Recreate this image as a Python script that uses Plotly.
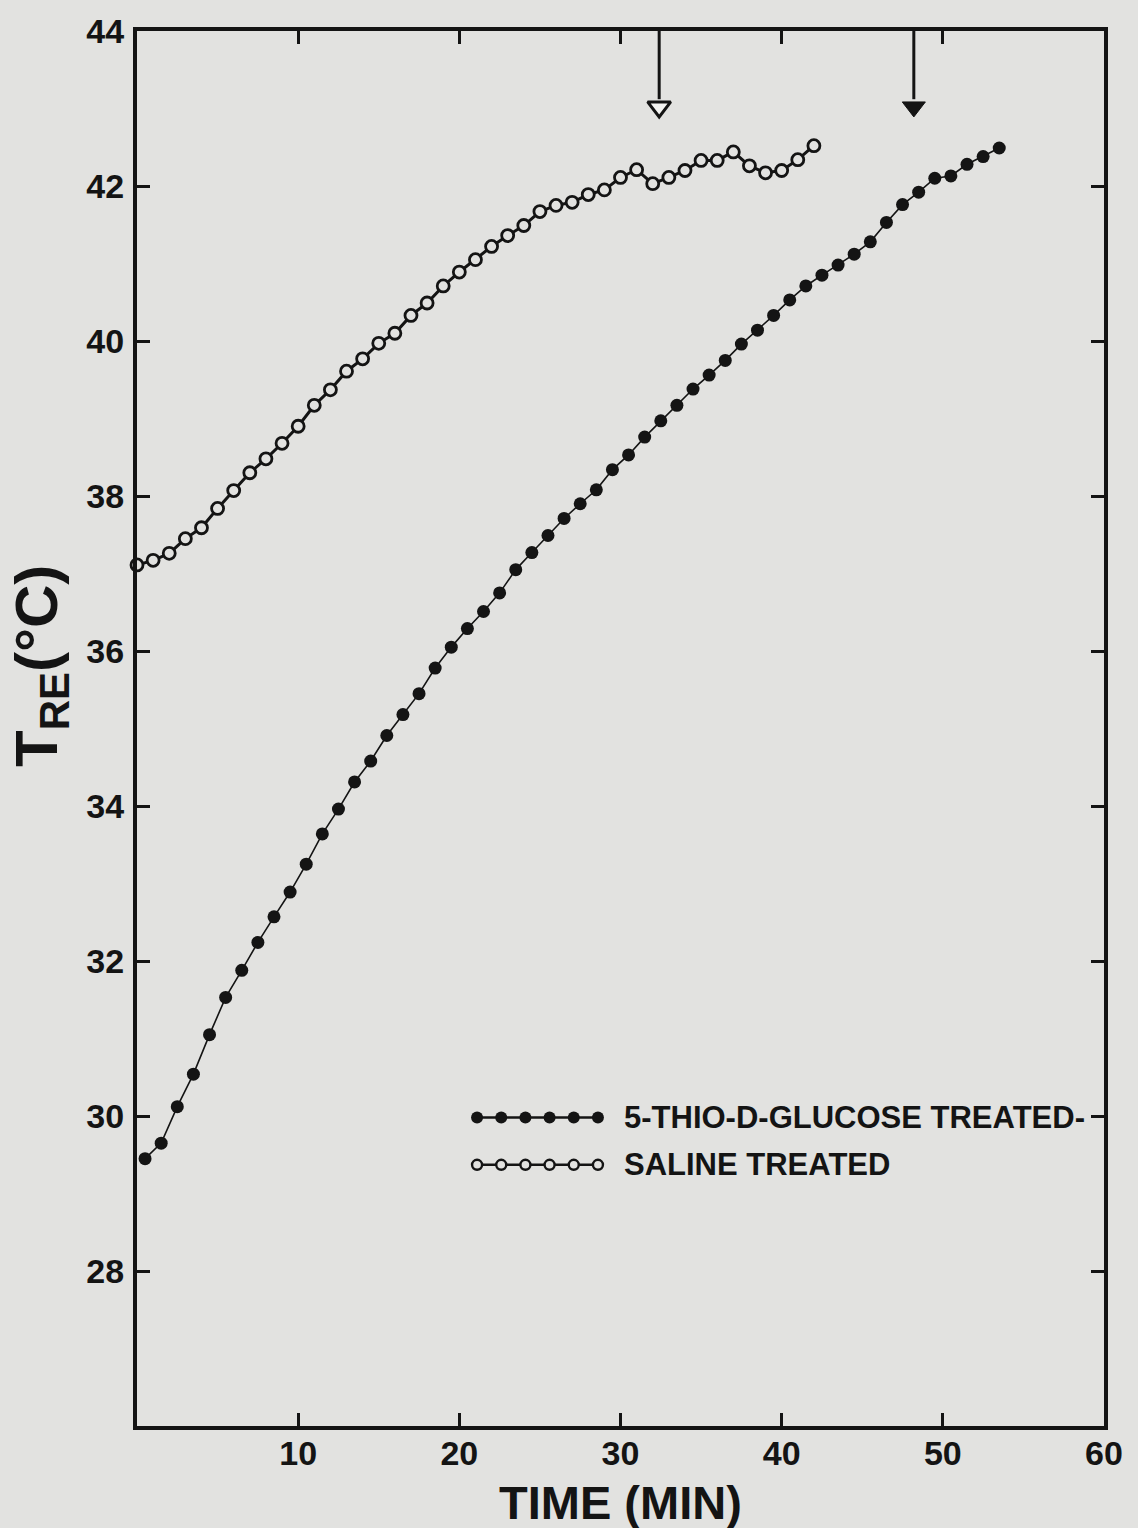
import plotly.graph_objects as go

# ---------------- data ----------------
saline_time = list(range(0, 43))  # minutes
saline_temp = [37.11, 37.17, 37.26, 37.45, 37.59, 37.84, 38.07, 38.30, 38.48, 38.68,
               38.90, 39.17, 39.37, 39.61, 39.77, 39.97, 40.10, 40.33, 40.49, 40.71,
               40.89, 41.05, 41.22, 41.36, 41.49, 41.67, 41.75, 41.79, 41.89, 41.95,
               42.11, 42.21, 42.03, 42.11, 42.20, 42.33, 42.33, 42.44, 42.26, 42.17,
               42.20, 42.34, 42.52]

thio_time = [i + 0.5 for i in range(0, 54)]  # minutes
thio_temp = [29.45, 29.65, 30.12, 30.54, 31.05, 31.53, 31.88, 32.24, 32.57, 32.89,
             33.25, 33.64, 33.96, 34.31, 34.58, 34.91, 35.18, 35.45, 35.78, 36.05,
             36.29, 36.51, 36.75, 37.05, 37.27, 37.49, 37.71, 37.90, 38.08, 38.34,
             38.53, 38.76, 38.97, 39.17, 39.38, 39.56, 39.75, 39.96, 40.14, 40.33,
             40.53, 40.71, 40.85, 40.98, 41.12, 41.28, 41.53, 41.76, 41.92, 42.10,
             42.13, 42.28, 42.38, 42.49]

# arrows marking end points (time in min)
arrow_saline_time = 32.4
arrow_thio_time = 48.2

x_ticks = [10, 20, 30, 40, 50, 60]
y_ticks = [28, 30, 32, 34, 36, 38, 40, 42, 44]

series_names = ["5-THIO-D-GLUCOSE TREATED-", "SALINE TREATED"]
x_title = "TIME (MIN)"
y_title = "T<sub>RE</sub>(°C)"

# ---------------- style ----------------
BG = "#e2e2e0"
INK = "#141414"
FONT = "Liberation Sans, Arial, sans-serif"

fig = go.Figure()

# 5-thio-D-glucose (filled circles)
fig.add_trace(go.Scatter(
    x=thio_time, y=thio_temp, mode="lines+markers", name=series_names[0],
    line=dict(color=INK, width=1.6),
    marker=dict(symbol="circle", size=13, color=INK, line=dict(width=0)),
    showlegend=False, cliponaxis=False))

# saline (open circles)
fig.add_trace(go.Scatter(
    x=saline_time, y=saline_temp, mode="lines+markers", name=series_names[1],
    line=dict(color=INK, width=3),
    marker=dict(symbol="circle", size=12, color=BG, line=dict(color=INK, width=2.8)),
    showlegend=False, cliponaxis=False))

# arrows from top axis
arrow_top = 44.0
arrow_head = 43.02
for t, filled in [(arrow_saline_time, False), (arrow_thio_time, True)]:
    fig.add_trace(go.Scatter(
        x=[t, t], y=[arrow_top, arrow_head + 0.1], mode="lines",
        line=dict(color=INK, width=3), showlegend=False, hoverinfo="skip",
        cliponaxis=False))
    fig.add_trace(go.Scatter(
        x=[t], y=[arrow_head], mode="markers",
        marker=dict(symbol="triangle-down", size=20,
                    color=INK if filled else "#f4f4f2",
                    line=dict(color=INK, width=3 if not filled else 1)),
        showlegend=False, hoverinfo="skip", cliponaxis=False))

# custom legend keys (a row of markers joined by a line)
legend_x0, legend_x1, legend_n = 21.1, 28.6, 6
legend_y = [29.98, 29.37]
step = (legend_x1 - legend_x0) / (legend_n - 1)
key_x = [legend_x0 + k * step for k in range(legend_n)]
fig.add_trace(go.Scatter(
    x=key_x, y=[legend_y[0]] * legend_n, mode="lines+markers",
    line=dict(color=INK, width=2.5),
    marker=dict(symbol="circle", size=12, color=INK),
    showlegend=False, hoverinfo="skip"))
fig.add_trace(go.Scatter(
    x=key_x, y=[legend_y[1]] * legend_n, mode="lines+markers",
    line=dict(color=INK, width=2.5),
    marker=dict(symbol="circle", size=10, color=BG, line=dict(color=INK, width=2.4)),
    showlegend=False, hoverinfo="skip"))
for name, yy in zip(series_names, legend_y):
    fig.add_annotation(x=legend_x1 + 1.5, y=yy, xref="x", yref="y", text="<b>" + name + "</b>",
                       showarrow=False, xanchor="left", yanchor="middle",
                       font=dict(family=FONT, size=31, color=INK))

# axis titles
fig.add_annotation(x=0.5, y=-0.055, xref="paper", yref="paper", text="<b>" + x_title + "</b>",
                   showarrow=False, xanchor="center", yanchor="middle",
                   font=dict(family=FONT, size=47, color=INK))
fig.add_annotation(x=-0.100, y=0.545, xref="paper", yref="paper", text="<b>" + y_title + "</b>",
                   showarrow=False, xanchor="center", yanchor="middle", textangle=-90,
                   font=dict(family=FONT, size=60, color=INK))

axis_common = dict(
    showline=True, linecolor=INK, linewidth=4, mirror="ticks",
    ticks="inside", ticklen=13, tickwidth=3, tickcolor=INK,
    showgrid=False, zeroline=False,
    tickfont=dict(family=FONT, size=34, color=INK, weight="bold"),
)

fig.update_xaxes(
    range=[0, 60], tickvals=x_ticks, ticktext=[str(v) for v in x_ticks],
    ticklabelstandoff=-6,
    **axis_common)
fig.update_yaxes(
    range=[26, 44], tickvals=y_ticks, ticktext=[str(v) for v in y_ticks],
    ticklabelstandoff=2,
    **axis_common)

fig.update_layout(
    width=1138, height=1528,
    margin=dict(l=137, r=34, t=28, b=102),
    paper_bgcolor=BG, plot_bgcolor=BG,
    font=dict(family=FONT, color=INK),
    showlegend=False,
)

fig.write_html(
    "out.html",
    config={"displayModeBar": False},
    post_script="document.body.style.margin='0';document.body.style.background='%s';"
                "document.body.style.overflow='hidden';" % BG,
)
